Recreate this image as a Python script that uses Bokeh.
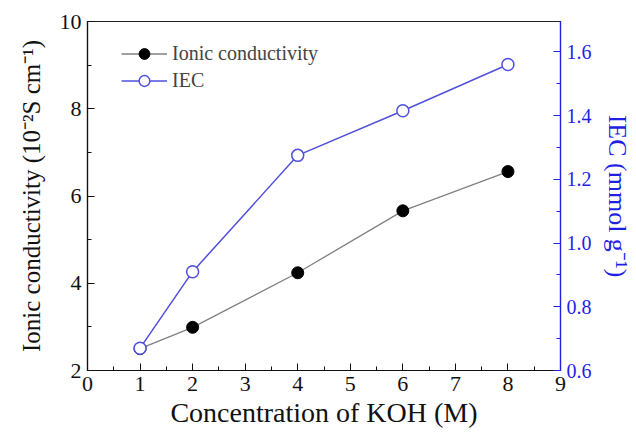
from bokeh.plotting import figure
from bokeh.models import (Range1d, LinearAxis, SingleIntervalTicker, NumeralTickFormatter,
                          Legend, LegendItem)
from bokeh.embed import file_html
from bokeh.resources import INLINE

koh = [1, 2, 4, 6, 8]
conductivity = [2.50, 2.99, 4.24, 5.66, 6.56]
iec = [0.67, 0.91, 1.275, 1.415, 1.56]

FONT = "Liberation Serif"
BLUE_AX = "#1f1fe6"
BLUE_LN = "#5050dc"

p = figure(width=636, height=433, output_backend="svg", toolbar_location=None,
           x_range=Range1d(0, 9), y_range=Range1d(2, 10),
           min_border_left=87, min_border_right=76, min_border_top=21, min_border_bottom=63)
p.extra_y_ranges = {"iec": Range1d(0.6, 1.695)}
p.grid.visible = False
p.outline_line_color = "#222222"
p.outline_line_width = 1.2
p.background_fill_color = "white"
p.border_fill_color = "white"

def style(ax, color="#111111", tick_size="22px", label_size="25px"):
    ax.axis_label_text_font = FONT
    ax.axis_label_text_font_style = "normal"
    ax.axis_label_text_font_size = label_size
    ax.axis_label_text_color = color
    ax.major_label_text_font = FONT
    ax.major_label_text_font_size = tick_size
    ax.major_label_text_color = color
    ax.axis_line_color = color
    ax.major_tick_line_color = color
    ax.minor_tick_line_color = color
    ax.major_tick_in = 7
    ax.major_tick_out = 0
    ax.minor_tick_in = 4
    ax.minor_tick_out = 0
    ax.axis_line_width = 1.2

xa = p.xaxis[0]
xa.ticker = SingleIntervalTicker(interval=1, num_minor_ticks=2)
xa.axis_label = "Concentration of KOH (M)"
style(xa, label_size="28px")
xa.major_label_standoff = 6
xa.axis_label_standoff = 3

ya = p.yaxis[0]
ya.ticker = SingleIntervalTicker(interval=2, num_minor_ticks=2)
ya.axis_label = "Ionic conductivity (10\u207b\u00b2S cm\u207b\u00b9)"
style(ya, label_size="25px")
ya.major_label_standoff = 6
ya.axis_label_standoff = 12

ra = LinearAxis(y_range_name="iec", axis_label="IEC (mmol g\u207b\u00b9)")
ra.ticker = SingleIntervalTicker(interval=0.2, num_minor_ticks=2)
ra.formatter = NumeralTickFormatter(format="0.0")
style(ra, BLUE_AX, tick_size="20px", label_size="26px")
ra.major_label_standoff = 6
ra.axis_label_standoff = 8
p.add_layout(ra, "right")

l1 = p.line(koh, conductivity, line_color="#808080", line_width=1.3)
s1 = p.scatter(koh, conductivity, size=12, marker="circle", fill_color="black", line_color="black")
l2 = p.line(koh, iec, line_color=BLUE_LN, line_width=1.5, y_range_name="iec")
s2 = p.scatter(koh, iec, size=12, marker="circle", fill_color="white", line_color=BLUE_LN,
               line_width=1.5, y_range_name="iec")

legend = Legend(items=[LegendItem(label="Ionic conductivity", renderers=[l1, s1]),
                       LegendItem(label="IEC", renderers=[l2, s2])],
                location=(34, 276), padding=0, margin=0, spacing=0,
                glyph_width=46, glyph_height=27, label_standoff=5,
                label_text_font=FONT, label_text_font_size="20px",
                border_line_color=None, background_fill_alpha=0)
p.add_layout(legend, "center")

open("out.html", "w").write(file_html(p, INLINE))
